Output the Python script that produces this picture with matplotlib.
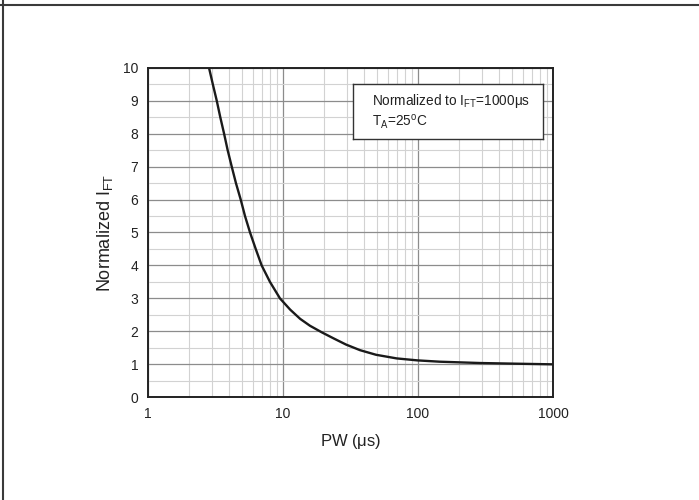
import matplotlib
matplotlib.use('Agg')
import matplotlib.pyplot as plt
from matplotlib.lines import Line2D
from matplotlib.ticker import FixedLocator, NullFormatter

plt.rcParams['font.family'] = ['Liberation Sans', 'DejaVu Sans']
plt.rcParams['mathtext.fontset'] = 'custom'
plt.rcParams['mathtext.rm'] = 'Liberation Sans'
plt.rcParams['mathtext.it'] = 'Liberation Sans'

# values
pulse_width = [2.83, 3.02, 3.23, 3.43, 3.66, 3.89, 4.17, 4.48, 4.86, 5.23,
               5.70, 6.28, 6.95, 8.01, 9.5, 11.3, 13.4, 15.85, 19.4, 23.9,
               29.3, 37.2, 48.9, 69.5, 99, 145, 288, 523, 1000]
norm_ift = [10, 9.5, 9, 8.5, 8, 7.5, 7, 6.5, 6, 5.5,
            5, 4.5, 4, 3.5, 3, 2.66, 2.38, 2.17, 1.97, 1.78,
            1.60, 1.43, 1.29, 1.18, 1.12, 1.08, 1.04, 1.02, 1.0]

x_ticks = [1, 10, 100, 1000]
x_tick_labels = ['1', '10', '100', '1000']
y_ticks = list(range(0, 11))

fig = plt.figure(figsize=(6.99, 5.0), dpi=100)
ax = fig.add_axes([148 / 699, 1 - 397.3 / 500, 405 / 699, 329.6 / 500])

ax.set_xscale('log')
ax.set_xlim(1, 1000)
ax.set_ylim(0, 10)

# grid: minor lines first, major lines on top
ax.xaxis.set_minor_locator(FixedLocator([m * d for d in [1, 10, 100] for m in range(2, 10)]))
ax.xaxis.set_minor_formatter(NullFormatter())
ax.yaxis.set_minor_locator(FixedLocator([v + 0.5 for v in range(10)]))
ax.grid(which='minor', color='#d2d2d2', linewidth=0.8)
ax.grid(which='major', color='#8c8c8c', linewidth=0.9)
ax.set_axisbelow(True)

ax.set_xticks(x_ticks)
ax.set_xticklabels(x_tick_labels)
ax.set_yticks(y_ticks)
ax.tick_params(which='both', length=0, labelsize=10, pad=7, colors='#222222')

for s in ax.spines.values():
    s.set_linewidth(1.4)
    s.set_color('#222222')

ax.plot(pulse_width, norm_ift, color='#1a1a1a', linewidth=1.7,
        solid_joinstyle='round', clip_on=True)

ax.set_xlabel(r'PW ($\mathregular{\mu}$s)', fontsize=12, labelpad=8, color='#222222')
ax.set_ylabel(r'Normalized I$_{\mathregular{FT}}$', fontsize=13, labelpad=6, color='#222222')

# annotation box
box_ax = fig.add_axes([353.3 / 699, 1 - 139.3 / 500, 189.4 / 699, 55 / 500])
box_ax.set_xticks([])
box_ax.set_yticks([])
box_ax.set_facecolor('white')
for s in box_ax.spines.values():
    s.set_linewidth(1.0)
    s.set_color('#333333')
box_ax.text(0.10, 0.69, r'Normalized to I$_{\mathregular{FT}}$=1000$\mathregular{\mu}$s',
            fontsize=9.8, va='center', ha='left', transform=box_ax.transAxes, color='#222222')
box_ax.text(0.10, 0.31, r'T$_{\mathregular{A}}$=25$^{\mathregular{o}}$C',
            fontsize=9.8, va='center', ha='left', transform=box_ax.transAxes, color='#222222')

# page frame lines
fig.add_artist(Line2D([0, 1], [1 - 5 / 500, 1 - 5 / 500], transform=fig.transFigure,
                      color='#3a3a3a', linewidth=1.5))
fig.add_artist(Line2D([3 / 699, 3 / 699], [0, 1], transform=fig.transFigure,
                      color='#3a3a3a', linewidth=1.5))

fig.savefig('out.png', dpi=100)
